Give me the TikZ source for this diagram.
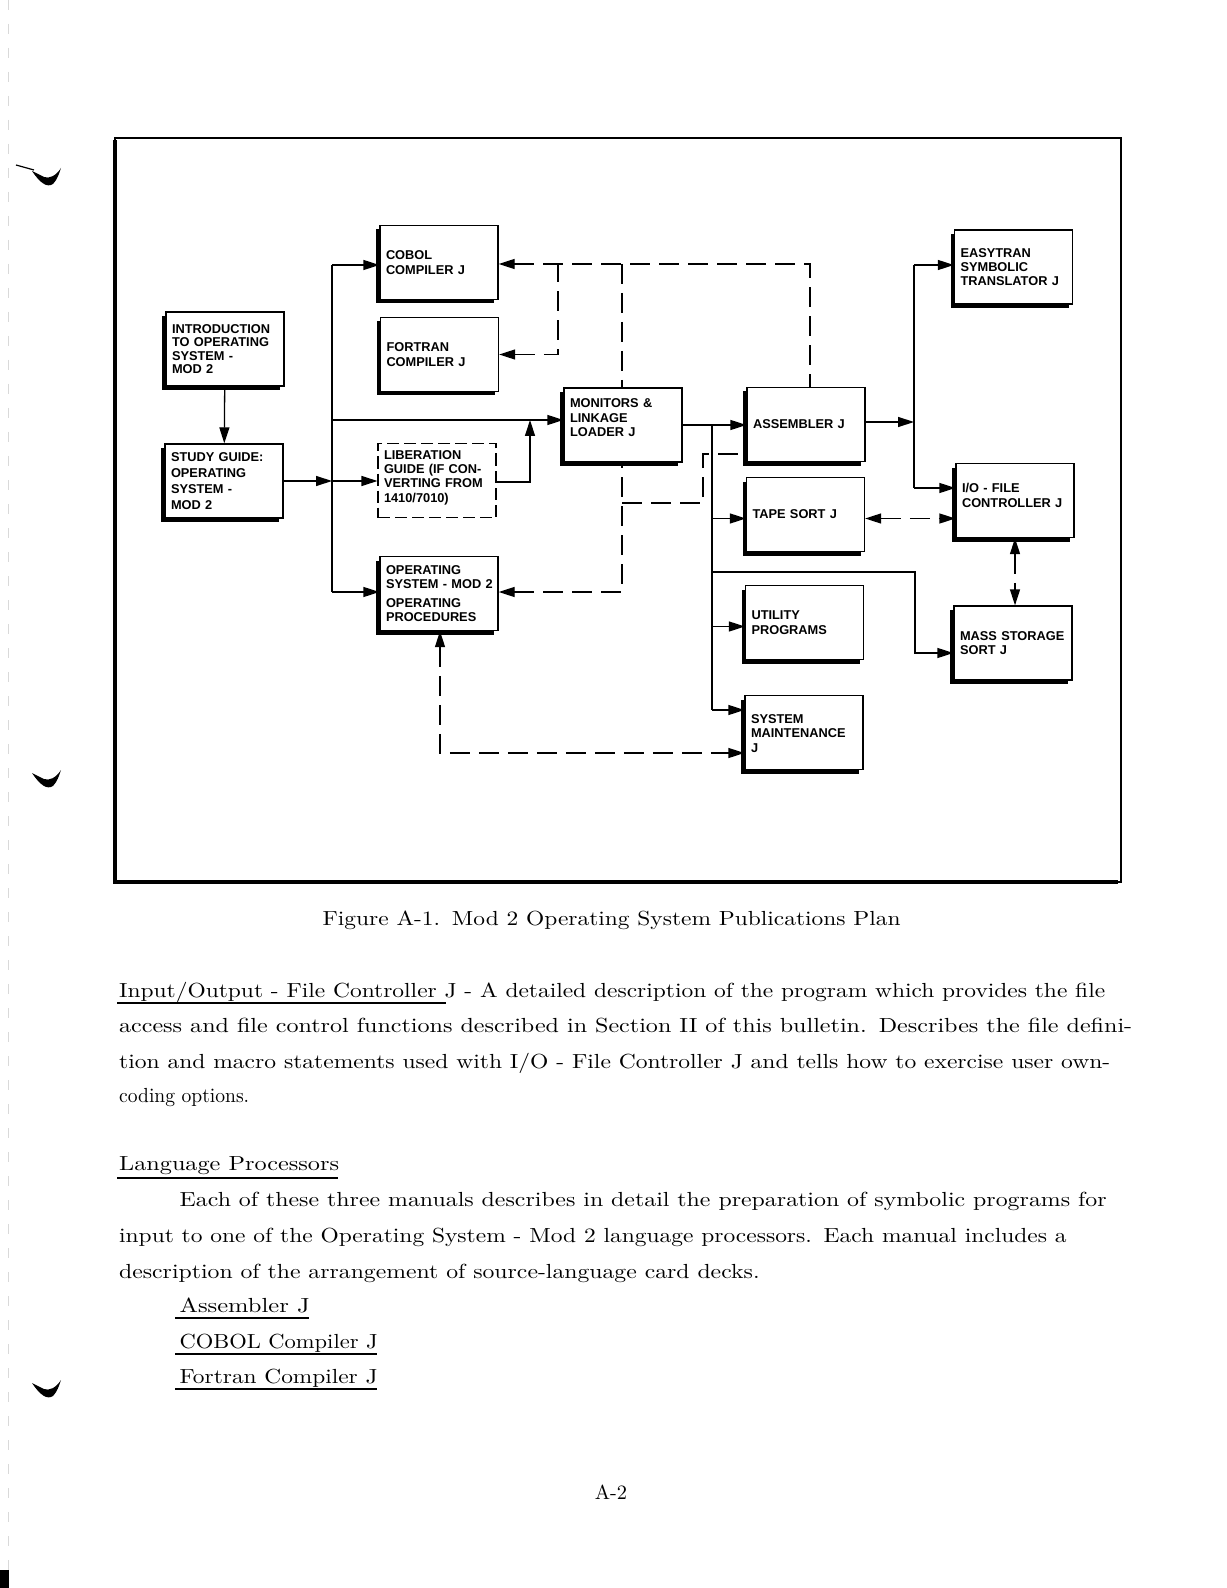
\documentclass[tikz,border=0pt]{standalone}
\usepackage{fontspec}
\usepackage{graphicx}
\newfontfamily\boxfnt{Liberation Sans}
\usetikzlibrary{arrows.meta,shadows}

\tikzset{
  boxbase/.style={rectangle, draw, fill=white, line width=0.65pt,
    minimum width=59pt, minimum height=37pt, text width=53pt,
    inner xsep=3pt, inner ysep=0pt, align=left,
    font=\boxfnt\bfseries\fontsize{6.4}{7.2}\selectfont},
  pubbox/.style={boxbase, drop shadow={shadow xshift=-2pt, shadow yshift=-2pt, opacity=1, fill=black}},
  guidebox/.style={boxbase, dash pattern=on 6pt off 2.5pt, line width=0.55pt},
  dashline/.style={dash pattern=on 10pt off 4.5pt},
  bodyline/.style={anchor=base west, inner sep=0pt, font=\fontsize{10.2}{12}\selectfont\addfontfeatures{LetterSpace=5}},
}

\begin{document}
\begin{tikzpicture}[x=0.5pt, y=-0.5pt, line width=0.65pt, >={Triangle[length=8pt,width=5pt]}]
    \useasboundingbox (0,0) rectangle (1226,1588);
    \fill[white] (0,0) rectangle (1226,1588);

    % scan marks on the left edge
    \draw[black!15, line width=0.4pt, dash pattern=on 5pt off 7pt] (8,0) -- (8,1588);
    \draw[line width=0.6pt] (16,165) -- (34,170);
    \fill (32,171) .. controls (40,183) and (47,188) .. (53,184) .. controls (57,180) and (59,174) .. (61,168) .. controls (56,176) and (49,179) .. (44,177) .. controls (40,175) and (36,173) .. cycle;
    \fill (32,773) .. controls (40,785) and (47,790) .. (53,786) .. controls (57,782) and (59,776) .. (61,770) .. controls (56,778) and (49,781) .. (44,779) .. controls (40,777) and (36,775) .. cycle;
    \fill (32,1383) .. controls (40,1395) and (47,1400) .. (53,1396) .. controls (57,1392) and (59,1386) .. (61,1380) .. controls (56,1388) and (49,1391) .. (44,1389) .. controls (40,1387) and (36,1385) .. cycle;
    \fill (0,1570) rectangle (9,1588);

    % frame
    \draw[line width=0.8pt] (115,138) rectangle (1121,882);
    \draw[line width=2pt] (115,140) -- (115,882) -- (1118,882);

    % boxes
    \node[pubbox, font=\boxfnt\bfseries\fontsize{6.4}{6.6}\selectfont] (intro) at (225,349) {INTRODUCTION\\ \mbox{TO OPERATING}\\ \mbox{SYSTEM -}\\ MOD~2};
    \node[pubbox, font=\boxfnt\bfseries\fontsize{6.4}{7.9}\selectfont] (study) at (224,481) {\mbox{STUDY GUIDE:}\\ OPERATING\\ \mbox{SYSTEM -}\\ MOD~2};
    \node[pubbox] (cobol) at (439,262.5) {COBOL\\ COMPILER~J};
    \node[pubbox] (fortran) at (439.5,354.5) {FORTRAN\\ COMPILER~J};
    \node[guidebox] (guide) at (437,480.5) {LIBERATION\\ \mbox{GUIDE (IF CON-}\\ \mbox{VERTING FROM}\\ 1410/7010)\\[-3pt]\mbox{}};
    \node[pubbox] (osproc) at (439,593.5) {OPERATING\\ \mbox{SYSTEM - MOD 2}\\[2pt] OPERATING\\ PROCEDURES};
    \node[pubbox] (monitors) at (623,425) {MONITORS~\&\\ LINKAGE\\ LOADER~J\\ \mbox{}};
    \node[pubbox] (assembler) at (806,424.5) {ASSEMBLER~J};
    \node[pubbox] (tapesort) at (805.5,514.5) {TAPE~SORT~J};
    \node[pubbox] (utility) at (804.5,622.5) {UTILITY\\ PROGRAMS};
    \node[pubbox] (sysmaint) at (804,732.5) {\mbox{}\\[-2pt] SYSTEM\\ MAINTENANCE\\ J};
    \node[pubbox] (easytran) at (1013.5,267) {EASYTRAN\\ SYMBOLIC\\ \mbox{TRANSLATOR J}};
    \node[pubbox] (iofile) at (1015,500.5) {\mbox{I/O - FILE}\\ \mbox{CONTROLLER J}\\[-2pt] \mbox{}};
    \node[pubbox] (mass) at (1013,643) {\mbox{MASS STORAGE}\\ SORT~J};

    % junctions
    \coordinate (busL) at (332,420);
    \coordinate (libUp) at (530,420);
    \coordinate (busM) at (712,425);
    \coordinate (busMend) at (712,710);
    \coordinate (massBend) at (915,572);
    \coordinate (busRtop) at (914,265);
    \coordinate (busRbot) at (914,488);
    \coordinate (dA) at (558,264);
    \coordinate (dB) at (622,264);
    \coordinate (dC) at (810,264);
    \coordinate (dD) at (703,454);
    \coordinate (dE) at (622,503);
    \coordinate (dF) at (440,753);
    \coordinate (tapeIn) at ([yshift=-2pt]tapesort.west);
    \coordinate (utilIn) at ([yshift=-2pt]utility.west);
    \coordinate (massIn) at ([yshift=-5pt]mass.west);
    \coordinate (tapeOut) at ([yshift=-2pt]tapesort.east);

    % solid lines
    \draw[->] (intro) -- (study);
    \draw[->] (study.east) -- (busL |- study.east);
    \draw[->] (busL |- study.east) -- (guide.west |- study.east);
    \draw (busL |- 0,265) -- (busL |- 0,592);
    \draw[->] (busL |- 0,265) -- (cobol.west |- 0,265);
    \draw[->] (busL |- 0,592) -- (osproc.west |- 0,592);
    \draw[->] (busL) -- (busL -| monitors.west);
    \draw[->] (guide.east |- 0,482) -| (libUp);

    \draw[->] (monitors.east) -- (assembler.west |- monitors.east);
    \draw (busM) -- (busMend);
    \draw[->] (busMend) -- (busMend -| sysmaint.west);
    \foreach \b in {tapeIn, utilIn}
        \draw[->] (busM |- \b) -- (\b);
    \draw[->] (busM |- massBend) -- (massBend) |- (massIn);

    \draw[->] (assembler.east |- 0,422) -- (busRtop |- 0,422);
    \draw (busRtop) -- (busRbot);
    \draw[->] (busRtop) -- (busRtop -| easytran.west);
    \draw[->] (busRbot) -- (busRbot -| iofile.west);

    % dashed lines
    \draw[dashline, <-] (cobol.east |- dA) -- (dC) -- (dC |- assembler.north);
    \draw[dashline, <-] (fortran.east) -| (dA);
    \draw[dashline] (dB) -- (dB |- monitors.north);
    \draw[dashline, <-] (osproc.east |- 0,592) -| (dE |- monitors.south);
    \draw[dashline] (dE) -| (dD) -- (dD -| assembler.west);
    \draw[dashline, <->] (tapeOut) -- (tapeOut -| iofile.west);
    \draw[dashline, <->] (iofile.south) -- (iofile.south |- mass.north);
    \draw[dashline, <->] (osproc.south -| dF) |- (sysmaint.west |- dF);

    % caption and page text
    \node[bodyline] (caption) at (322,925) {\resizebox{289pt}{\height}{Figure A-1.\enspace Mod 2 Operating System Publications Plan}};
    \node[bodyline] (p1) at (118.5,997) {\resizebox{493pt}{\height}{Input/Output - File Controller J - A detailed description of the program which provides the file}};
    \node[bodyline] (p2) at (118.5,1032) {\resizebox{506.5pt}{\height}{access and file control functions described in Section II of this bulletin.\enspace Describes the file defini-}};
    \node[bodyline] (p3) at (118.5,1068) {\resizebox{495.5pt}{\height}{tion and macro statements used with I/O - File Controller J and tells how to exercise user own-}};
    \node[bodyline] (p4) at (118.5,1102) {\resizebox{65pt}{\height}{coding options.}};
    \node[bodyline] (langhead) at (118.5,1170) {\resizebox{110pt}{\height}{Language Processors}};
    \node[bodyline] (q1) at (179,1206) {\resizebox{463.5pt}{\height}{Each of these three manuals describes in detail the preparation of symbolic programs for}};
    \node[bodyline] (q2) at (118.5,1242) {\resizebox{473.7pt}{\height}{input to one of the Operating System - Mod 2 language processors.\enspace Each manual includes a}};
    \node[bodyline] (q3) at (118.5,1278) {\resizebox{320.2pt}{\height}{description of the arrangement of source-language card decks.}};
    \node[bodyline] (m1) at (179,1312) {\resizebox{65pt}{\height}{Assembler J}};
    \node[bodyline] (m2) at (179,1348) {\resizebox{99pt}{\height}{COBOL Compiler J}};
    \node[bodyline] (m3) at (179,1383) {\resizebox{99pt}{\height}{Fortran Compiler J}};
    \node[bodyline, anchor=base] (pageno) at (611,1499) {A-2};

    % underlines
    \draw[line width=0.7pt] (117,1003) -- (446,1003);
    \draw[line width=0.7pt] (117,1178) -- (338,1178);
    \draw[line width=0.7pt] (175,1318) -- (309,1318);
    \draw[line width=0.7pt] (175,1354) -- (377,1354);
    \draw[line width=0.7pt] (175,1389) -- (377,1389);
\end{tikzpicture}
\end{document}
